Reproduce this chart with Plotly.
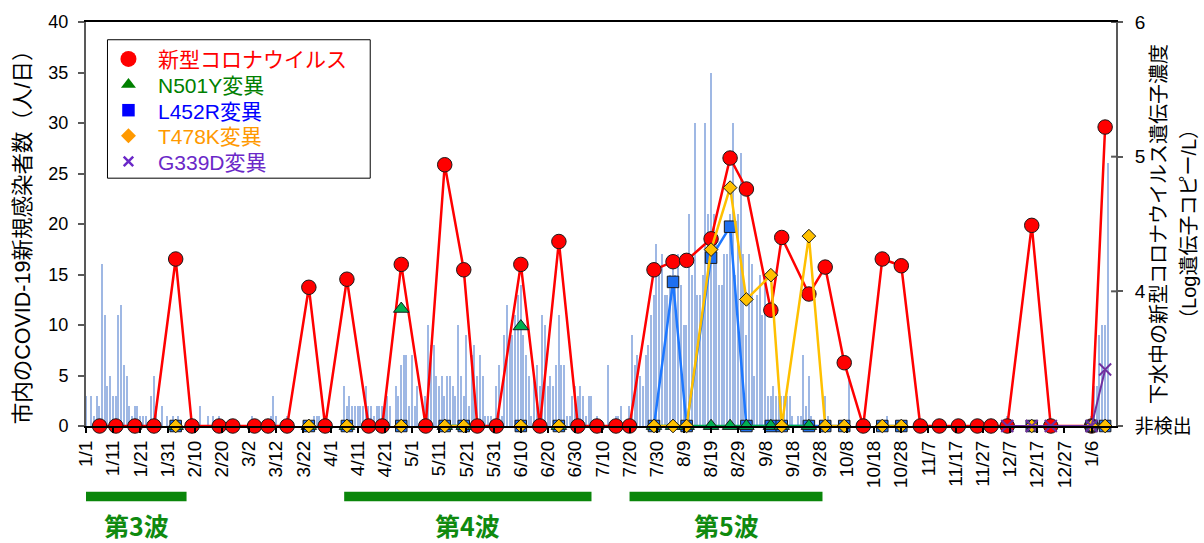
import pandas as pd
import plotly.graph_objects as go

# ---- 市内の新規感染者数（人/日）, 1日ごと, 月別 ----
cases_2021_01 = [3, 0, 3, 1, 3, 2, 16, 11, 4, 5, 3, 3, 11, 12, 6, 5, 2, 1, 2, 2, 1, 1, 1, 0, 3, 5, 2, 0, 2, 0, 1]
cases_2021_02 = [0, 1, 0, 1, 0, 0, 0, 0, 0, 0, 0, 2, 0, 0, 1, 0, 1, 0, 1, 0, 0, 0, 0, 0, 0, 0, 0, 0]
cases_2021_03 = [0, 0, 1, 0, 0, 0, 0, 0, 0, 1, 3, 1, 0, 0, 0, 1, 0, 0, 0, 0, 0, 0, 0, 0, 0, 1, 1, 1, 0, 0, 0]
cases_2021_04 = [0, 0, 0, 0, 0, 4, 2, 3, 2, 2, 2, 2, 2, 4, 2, 2, 1, 2, 2, 2, 2, 3, 2, 0, 4, 3, 6, 7, 7, 2]
cases_2021_05 = [7, 2, 4, 0, 0, 3, 10, 8, 8, 5, 4, 5, 3, 5, 5, 4, 3, 10, 5, 3, 9, 2, 7, 8, 5, 7, 5, 1, 1, 1, 0]
cases_2021_06 = [4, 6, 1, 9, 12, 9, 9, 11, 13, 14, 9, 7, 5, 1, 5, 6, 4, 11, 10, 4, 5, 4, 6, 11, 6, 6, 1, 1, 3, 4]
cases_2021_07 = [3, 4, 3, 1, 3, 3, 0, 1, 0, 0, 0, 6, 0, 0, 1, 1, 2, 0, 0, 2, 9, 6, 7, 5, 4, 7, 8, 11, 13, 18, 15]
cases_2021_08 = [17, 13, 13, 15, 16, 15, 17, 14, 10, 10, 21, 15, 30, 13, 13, 15, 30, 21, 35, 21, 18, 14, 14, 17, 17, 21, 30, 15, 21, 27, 17]
cases_2021_09 = [9, 17, 16, 5, 13, 15, 11, 15, 3, 3, 4, 3, 3, 3, 3, 3, 3, 1, 0, 1, 1, 7, 2, 5, 1, 0, 0, 0, 0, 3]
cases_2021_10 = [1, 0, 0, 0, 0, 0, 0, 0, 5, 0, 0, 0, 0, 0, 0, 0, 0, 0, 0, 0, 0, 0, 1, 0, 0, 0, 0, 0, 0, 0, 0]
cases_2021_11 = [0] * 30
cases_2021_12 = [0, 0, 0, 0, 0, 1] + [0] * 25
cases_2022_01 = [0, 0, 0, 0, 0, 1, 4, 4, 9, 10, 10, 26]

# ---- 下水中の遺伝子濃度 (Log 遺伝子コピー/L)  "ND" = 非検出, None = 未測定 ----
sample_dates = [
    "2021-01-06", "2021-01-12", "2021-01-19", "2021-01-26", "2021-02-03", "2021-02-09",
    "2021-02-19", "2021-02-24", "2021-03-04", "2021-03-09", "2021-03-16", "2021-03-24",
    "2021-03-30", "2021-04-07", "2021-04-15", "2021-04-20", "2021-04-27", "2021-05-06",
    "2021-05-13", "2021-05-20", "2021-05-25", "2021-06-01", "2021-06-10", "2021-06-17",
    "2021-06-24", "2021-07-01", "2021-07-08", "2021-07-15", "2021-07-20", "2021-07-29",
    "2021-08-05", "2021-08-10", "2021-08-19", "2021-08-26", "2021-09-01", "2021-09-10",
    "2021-09-14", "2021-09-24", "2021-09-30", "2021-10-07", "2021-10-14", "2021-10-21",
    "2021-10-28", "2021-11-04", "2021-11-11", "2021-11-18", "2021-11-25", "2021-11-30",
    "2021-12-06", "2021-12-15", "2021-12-22", "2022-01-06", "2022-01-11",
]
ND = "ND"
sarscov2 = [
    ND, ND, ND, ND, 4.24, ND,
    ND, ND, ND, ND, ND, 4.03,
    ND, 4.09, ND, ND, 4.20, ND,
    4.94, 4.16, ND, ND, 4.20, ND,
    4.37, ND, ND, ND, ND, 4.16,
    4.22, 4.23, 4.39, 4.99, 4.76, 3.86,
    4.40, 3.98, 4.18, 3.47, ND, 4.24,
    4.19, ND, ND, ND, ND, ND,
    ND, 4.49, ND, ND, 5.22,
]
n501y = [
    None, None, None, None, ND, None,
    None, None, None, None, None, ND,
    None, ND, None, None, 3.87, None,
    ND, ND, None, None, 3.74, None,
    ND, None, None, None, None, ND,
    ND, ND, ND, ND, ND, ND,
    ND, ND, None, None, None, None,
    None, None, None, None, None, None,
    None, None, None, None, None,
]
l452r = [
    None, None, None, None, ND, None,
    None, None, None, None, None, ND,
    None, ND, None, None, ND, None,
    ND, ND, None, None, ND, None,
    ND, None, None, None, None, ND,
    4.07, ND, 4.25, 4.48, ND, ND,
    ND, ND, ND, ND, None, ND,
    ND, None, None, None, None, None,
    None, ND, None, ND, ND,
]
t478k = [
    None, None, None, None, ND, None,
    None, None, None, None, None, ND,
    None, ND, None, None, ND, None,
    ND, ND, None, None, ND, None,
    ND, None, None, None, None, ND,
    ND, ND, 4.31, 4.77, 3.94, 4.12,
    ND, 4.41, ND, ND, None, ND,
    ND, None, None, None, None, None,
    None, ND, None, ND, ND,
]
g339d = [
    None, None, None, None, None, None,
    None, None, None, None, None, None,
    None, None, None, None, None, None,
    None, None, None, None, None, None,
    None, None, None, None, None, None,
    None, None, None, None, None, None,
    None, None, None, None, None, None,
    None, None, None, None, None, None,
    ND, ND, ND, ND, 3.42,
]

# ---- 軸の目盛ラベル (10日ごと) ----
tick_labels = [
    "1/1", "1/11", "1/21", "1/31", "2/10", "2/20", "3/2", "3/12", "3/22", "4/1",
    "4/11", "4/21", "5/1", "5/11", "5/21", "5/31", "6/10", "6/20", "6/30", "7/10",
    "7/20", "7/30", "8/9", "8/19", "8/29", "9/8", "9/18", "9/28", "10/8", "10/18",
    "10/28", "11/7", "11/17", "11/27", "12/7", "12/17", "12/27", "1/6",
]
log_ticks = [3, 4, 5, 6]
log_tick_labels = ["非検出", "4", "5", "6"]

# ---- 流行の波 ----
wave_names = ["第3波", "第4波", "第5波"]
wave_starts = ["2021-01-01", "2021-04-06", "2021-07-20"]
wave_ends = ["2021-02-07", "2021-07-06", "2021-09-29"]

# ---------------------------------------------------------------
FONT = "Liberation Sans, Arial, Noto Sans CJK JP, sans-serif"
JFONT = "Noto Sans CJK JP, Liberation Sans, sans-serif"
DAY_MS = 86400000
ND_LEVEL = log_ticks[0]

W, H = 1204, 543
M_L, M_R, M_T, M_B = 86, 87, 16, 117

daily_cases = (cases_2021_01 + cases_2021_02 + cases_2021_03 + cases_2021_04 +
               cases_2021_05 + cases_2021_06 + cases_2021_07 + cases_2021_08 +
               cases_2021_09 + cases_2021_10 + cases_2021_11 + cases_2021_12 +
               cases_2022_01)
case_dates = pd.date_range("2021-01-01", periods=len(daily_cases), freq="D")
tick_dates = pd.date_range("2021-01-01", periods=len(tick_labels), freq="10D")
samples = pd.to_datetime(sample_dates)


def on_log_axis(values):
    return [ND_LEVEL if v == ND else v for v in values]


fig = go.Figure()

# 日別感染者数の棒
fig.add_trace(go.Bar(
    x=case_dates, y=daily_cases, width=0.55 * DAY_MS,
    marker=dict(color="#9fb8e4", line=dict(width=0)),
    showlegend=False, yaxis="y",
))

# 下水中濃度の折れ線
series = [
    # values, marker color, line color, symbol, size
    (sarscov2, "#ff0000", "#ff0000", "circle", 14.5),
    (l452r, "#1e6ff0", "#1e78ff", "square", 11.5),
    (n501y, "#00b050", "#00b050", "triangle-up", 13.5),
    (t478k, "#ffc000", "#ffc000", "diamond", 10.5),
]
for vals, mcolor, lcolor, symbol, size in series:
    fig.add_trace(go.Scatter(
        x=samples, y=on_log_axis(vals), yaxis="y2", mode="lines+markers",
        showlegend=False, connectgaps=False, cliponaxis=False,
        line=dict(color=lcolor, width=2.5),
        marker=dict(symbol=symbol, size=size, color=mcolor,
                    line=dict(color="#1a1a1a", width=1)),
    ))
fig.add_trace(go.Scatter(
    x=samples, y=on_log_axis(g339d), yaxis="y2", mode="lines+markers",
    showlegend=False, connectgaps=False, cliponaxis=False,
    line=dict(color="#7030a0", width=2),
    marker=dict(symbol="x-thin", size=12, color="#7030a0",
                line=dict(color="#7030a0", width=2)),
))

# ---- 凡例（枠内に記号と文字を配置）: 画素座標の補助軸 x3/y3 ----
legend_items = [
    ("新型コロナウイルス", "#ff0000", "circle", 16),
    ("N501Y変異", "#008000", "triangle-up", 13),
    ("L452R変異", "#0000ff", "square", 12.5),
    ("T478K変異", "#ff9900", "diamond", 11.5),
    ("G339D変異", "#6a28c8", "x-thin", 9.5),
]
LEG_BOX = dict(x0=107.5, x1=370.5, y0=34, y1=174.5)
LEG_ROW0, LEG_ROW_STEP = 53.5, 26
LEG_SYM_X, LEG_TEXT_X = 128.5, 156

annotations = []
for i, (label, color, symbol, size) in enumerate(legend_items):
    row_y = LEG_ROW0 + i * LEG_ROW_STEP
    fig.add_trace(go.Scatter(
        x=[LEG_SYM_X], y=[row_y], xaxis="x3", yaxis="y3", mode="markers",
        showlegend=False, hoverinfo="skip", cliponaxis=False,
        marker=dict(symbol=symbol, size=size, color=color,
                    line=dict(color=color, width=2.5 if symbol == "x-thin" else 0)),
    ))
    annotations.append(dict(
        x=LEG_TEXT_X, y=row_y + 1, xref="x3", yref="y3", text=label, showarrow=False,
        xanchor="left", yanchor="middle", font=dict(family=FONT, size=21, color=color)))

shapes = [dict(type="rect", xref="x3", yref="y3", **LEG_BOX,
               line=dict(color="black", width=1), fillcolor="white", layer="below")]

# 波の期間を示す横棒
for s, e in zip(wave_starts, wave_ends):
    shapes.append(dict(type="rect", xref="x", yref="paper", x0=s, x1=e,
                       y0=-0.186, y1=-0.163, fillcolor="#0a860a",
                       line=dict(width=0), layer="above"))
# 右軸の内向き目盛
for v in log_ticks[1:]:
    shapes.append(dict(type="line", xref="paper", yref="y2", x0=0.9952, x1=1.0,
                       y0=v, y1=v, line=dict(color="#595959", width=2)))

for name, s, e in zip(wave_names, wave_starts, wave_ends):
    mid = pd.Timestamp(s) + (pd.Timestamp(e) - pd.Timestamp(s)) / 2
    annotations.append(dict(x=mid, y=-0.246, xref="x", yref="paper", text=f"<b>{name}</b>",
                            showarrow=False, xanchor="center", yanchor="middle",
                            font=dict(family=JFONT, size=25, color="#0f8a0f")))
annotations.append(dict(
    x=-0.061, y=0.48, xref="paper", yref="paper", textangle=-90,
    text="市内のCOVID-19新規感染者数（人/日）", showarrow=False,
    xanchor="center", yanchor="middle", font=dict(family=FONT, size=21.5, color="black")))
annotations.append(dict(
    x=1.0417, y=0.5, xref="paper", yref="paper", textangle=-90,
    text="下水中の新型コロナウイルス遺伝子濃度", showarrow=False,
    xanchor="center", yanchor="middle", font=dict(family=FONT, size=20, color="black")))
annotations.append(dict(
    x=1.0708, y=0.5, xref="paper", yref="paper", textangle=-90,
    text="（Log遺伝子コピー/L）", showarrow=False,
    xanchor="center", yanchor="middle", font=dict(family=FONT, size=20, color="black")))

fig.update_layout(
    width=W, height=H,
    margin=dict(l=M_L, r=M_R, t=M_T, b=M_B),
    paper_bgcolor="white", plot_bgcolor="white",
    font=dict(family=FONT, size=18, color="black"),
    bargap=0, showlegend=False,
    xaxis=dict(
        type="date", range=["2021-01-01", "2022-01-15"],
        tickmode="array", tickvals=tick_dates, ticktext=tick_labels,
        tickangle=-90, ticks="outside", ticklen=5, tickwidth=1.5, tickcolor="black",
        showline=True, linecolor="black", linewidth=2, mirror=True,
        showgrid=False, zeroline=False, tickfont=dict(size=19),
    ),
    yaxis=dict(
        range=[0, 40], dtick=5, ticks="outside", ticklen=6, tickwidth=2,
        tickcolor="#595959", showline=True, linecolor="#595959", linewidth=2,
        showgrid=False, zeroline=False, tickfont=dict(size=18), ticklabelstandoff=6,
    ),
    yaxis2=dict(
        overlaying="y", side="right", range=[3, 6], tickmode="array",
        tickvals=log_ticks, ticktext=log_tick_labels, ticks="outside", ticklen=5,
        tickwidth=2, tickcolor="#595959", showline=True, linecolor="#595959",
        linewidth=2, showgrid=False, zeroline=False, tickfont=dict(size=19),
        ticklabelstandoff=8,
    ),
    xaxis3=dict(overlaying="x", range=[M_L, W - M_R], visible=False, fixedrange=True),
    yaxis3=dict(overlaying="y", range=[H - M_B, M_T], visible=False, fixedrange=True),
    shapes=shapes, annotations=annotations,
)

fig.write_html("out.html")
